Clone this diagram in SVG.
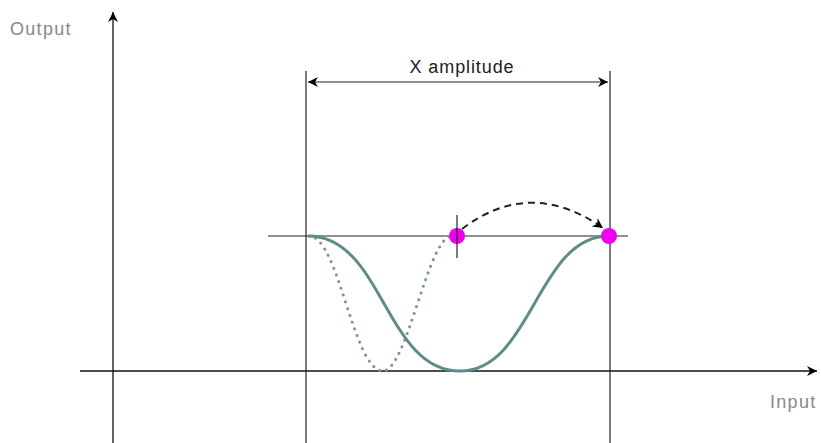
<svg xmlns="http://www.w3.org/2000/svg" width="821" height="443" viewBox="0 0 821 443">
<style>
.ax{stroke:#111;stroke-width:1.3;fill:none}
.ln{stroke:#222;stroke-width:1.2;fill:none}
.lbl{font-family:"Liberation Sans",Arial,sans-serif;font-size:18px;fill:#888;letter-spacing:1.3px}
.t{font-family:"Liberation Sans",Arial,sans-serif;font-size:18px;fill:#222;letter-spacing:0.9px}
.curve{stroke:#5e8c89;stroke-width:3;fill:none}
.dot{stroke:#7f9896;stroke-width:3;fill:none;stroke-dasharray:0.1 7;stroke-linecap:round}
.pt{fill:#ee00ee}
</style>
<defs>
<marker id="ah" viewBox="0 0 10 10" refX="10" refY="5" markerWidth="10" markerHeight="10" markerUnits="userSpaceOnUse" orient="auto-start-reverse">
<path d="M0,0 L10,5 L0,10 L3,5 Z" fill="#000"/>
</marker>
</defs>
<rect width="821" height="443" fill="#fff"/>
<g id="axes">
<line class="ax" x1="113" y1="443" x2="113" y2="12" marker-end="url(#ah)"/>
<line class="ax" x1="80" y1="371" x2="817" y2="371" marker-end="url(#ah)"/>
<text class="lbl" x="10" y="35">Output</text>
<text class="lbl" x="770" y="408">Input</text>
</g>
<g id="guides">
<line class="ln" x1="306" y1="71" x2="306" y2="443"/>
<line class="ln" x1="610" y1="71" x2="610" y2="443"/>
<line class="ln" x1="308" y1="82" x2="608" y2="82" marker-start="url(#ah)" marker-end="url(#ah)"/>
<text class="t" x="462" y="73" text-anchor="middle">X amplitude</text>
<line class="ln" x1="268" y1="236" x2="628" y2="236"/>
</g>
<g id="curves">
<path class="dot" d="M309,236 C339,236 353,371 383,371 C407,371 428,236 452,236"/>
<path class="curve" d="M308,236 C383,236 385,371 460,371 C532,371 537,236 609,236"/>
</g>
<g id="points">
<circle class="pt" cx="457" cy="236" r="8"/>
<circle class="pt" cx="609" cy="236" r="8"/>
<line class="ln" x1="457" y1="215" x2="457" y2="258"/>
</g>
<g id="connectors">
<path d="M462,229 Q530,177 603,228" fill="none" stroke="#222" stroke-width="2" stroke-dasharray="7 5" marker-end="url(#ah)"/>
</g>
</svg>
